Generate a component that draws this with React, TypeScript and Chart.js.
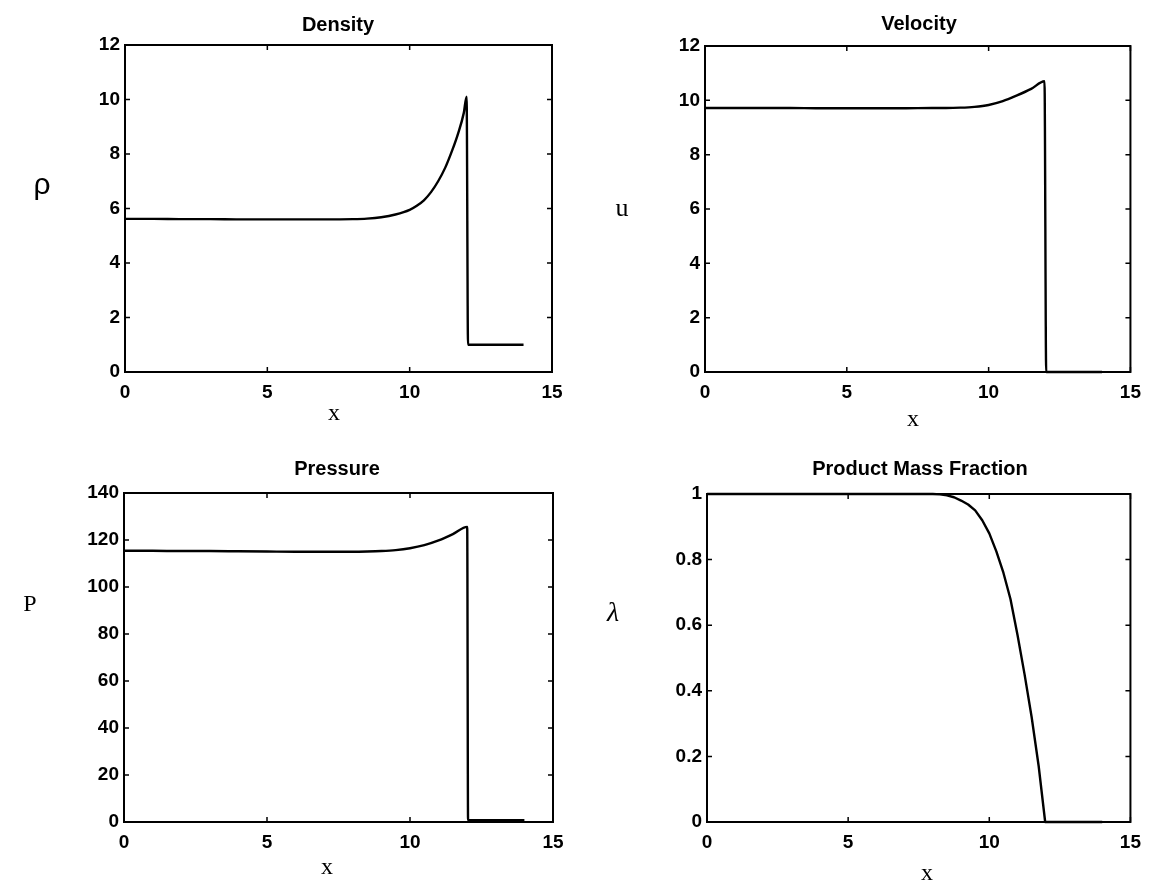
import React, { useEffect, useRef } from "react";
import { Chart, registerables } from "chart.js";

Chart.register(...registerables);

// ---------- data ----------
const densityX = [0, 1, 2, 3, 4, 5, 6, 7, 8, 8.5, 9, 9.5, 10, 10.25, 10.5, 10.75, 11, 11.25, 11.5, 11.7, 11.9, 12.0, 12.05, 13, 14];
const densityY = [5.62, 5.62, 5.61, 5.61, 5.6, 5.6, 5.6, 5.6, 5.61, 5.63, 5.68, 5.78, 5.95, 6.1, 6.3, 6.6, 7.0, 7.5, 8.15, 8.75, 9.5, 10.1, 1.0, 1.0, 1.0];

const velocityX = [0, 1, 2, 3, 4, 5, 6, 7, 8, 8.5, 9, 9.5, 10, 10.5, 11, 11.5, 11.97, 12.03, 13, 14];
const velocityY = [9.72, 9.72, 9.72, 9.72, 9.71, 9.71, 9.71, 9.71, 9.72, 9.72, 9.73, 9.76, 9.83, 9.97, 10.18, 10.42, 10.7, 0, 0, 0];

const pressureX = [0, 1, 2, 3, 4, 5, 6, 7, 8, 8.5, 9, 9.5, 10, 10.5, 11, 11.5, 12.0, 12.03, 13, 14];
const pressureY = [115.4, 115.4, 115.3, 115.3, 115.2, 115.1, 115.0, 115.0, 115.0, 115.1, 115.3, 115.7, 116.5, 117.8, 119.8, 122.5, 125.6, 0.8, 0.8, 0.8];

const lambdaX = [0, 2, 4, 6, 8, 8.25, 8.5, 8.75, 9, 9.25, 9.5, 9.75, 10, 10.25, 10.5, 10.75, 11, 11.25, 11.5, 11.75, 11.98, 13, 14];
const lambdaY = [1, 1, 1, 1, 1, 0.999, 0.996, 0.99, 0.98, 0.968, 0.95, 0.92, 0.88, 0.825, 0.76, 0.68, 0.57, 0.45, 0.32, 0.17, 0, 0, 0];

const xTickStep = 5;
const xMin = 0;
const xMax = 15;

const titles = ["Density", "Velocity", "Pressure", "Product Mass Fraction"];
const yLabels = ["ρ", "u", "P", "λ"];
const xLabel = "x";

// ---------- layout ----------
const W = 1150;
const H = 882;
const YW = 60;
const XH = 40;

type PanelSpec = {
  xs: number[];
  ys: number[];
  yMin: number;
  yMax: number;
  yStep: number;
  smooth: boolean;
  area: { l: number; r: number; t: number; b: number };
  title: string;
  titlePos: [number, number];
  yLabel: string;
  yLabelPos: [number, number];
  yLabelFont: string;
  xLabelPos: [number, number];
};

const panels: PanelSpec[] = [
  {
    xs: densityX, ys: densityY, yMin: 0, yMax: 12, yStep: 2, smooth: true,
    area: { l: 125, r: 552, t: 45, b: 372 },
    title: titles[0], titlePos: [338, 25],
    yLabel: yLabels[0], yLabelPos: [42, 194], yLabelFont: '30px "Liberation Sans"',
    xLabelPos: [334, 420],
  },
  {
    xs: velocityX, ys: velocityY, yMin: 0, yMax: 12, yStep: 2, smooth: true,
    area: { l: 705, r: 1132, t: 46, b: 372 },
    title: titles[1], titlePos: [919, 24],
    yLabel: yLabels[1], yLabelPos: [622, 216], yLabelFont: '26px "Liberation Serif"',
    xLabelPos: [913, 426],
  },
  {
    xs: pressureX, ys: pressureY, yMin: 0, yMax: 140, yStep: 20, smooth: true,
    area: { l: 124, r: 553, t: 493, b: 822 },
    title: titles[2], titlePos: [337, 469],
    yLabel: yLabels[2], yLabelPos: [30, 611], yLabelFont: '24px "Liberation Serif"',
    xLabelPos: [327, 874],
  },
  {
    xs: lambdaX, ys: lambdaY, yMin: 0, yMax: 1, yStep: 0.2, smooth: false,
    area: { l: 707, r: 1134, t: 494, b: 822 },
    title: titles[3], titlePos: [920, 469],
    yLabel: yLabels[3], yLabelPos: [613, 621], yLabelFont: 'italic 28px "Liberation Serif"',
    xLabelPos: [927, 880],
  },
];

const framePlugin = {
  id: "frame",
  afterDraw(chart: any, _args: any, opts: any) {
    const ctx = chart.ctx as CanvasRenderingContext2D;
    const { left, right, top, bottom } = chart.chartArea;
    ctx.save();
    ctx.strokeStyle = "#000";
    ctx.lineWidth = 2;
    ctx.strokeRect(left, top, right - left, bottom - top);
    ctx.lineWidth = 1.5;
    const tl = 5;
    const xs = chart.scales.x;
    xs.ticks.forEach((t: any) => {
      const p = xs.getPixelForValue(t.value);
      ctx.beginPath();
      ctx.moveTo(p, bottom);
      ctx.lineTo(p, bottom - tl);
      ctx.moveTo(p, top);
      ctx.lineTo(p, top + tl);
      ctx.stroke();
    });
    const ys = chart.scales.y;
    ys.ticks.forEach((t: any) => {
      const p = ys.getPixelForValue(t.value);
      ctx.beginPath();
      ctx.moveTo(left, p);
      ctx.lineTo(left + tl, p);
      ctx.moveTo(right, p);
      ctx.lineTo(right - tl, p);
      ctx.stroke();
    });
    ctx.fillStyle = "#000";
    ctx.textAlign = "center";
    ctx.textBaseline = "middle";
    ctx.font = 'bold 20px "Liberation Sans"';
    ctx.fillText(opts.title, opts.titlePos[0], opts.titlePos[1]);
    ctx.textBaseline = "alphabetic";
    ctx.font = opts.yLabelFont;
    ctx.fillText(opts.yLabel, opts.yLabelPos[0], opts.yLabelPos[1]);
    ctx.font = '24px "Liberation Serif"';
    ctx.fillText(opts.xLabel, opts.xLabelPos[0], opts.xLabelPos[1]);
    ctx.restore();
  },
};

const tickFont = { family: '"Liberation Sans", Arial, sans-serif', size: 19, weight: "bold" as const };

const fmt = (v: any) => String(Math.round(Number(v) * 100) / 100);

function PanelChart({ spec }: { spec: PanelSpec }) {
  const ref = useRef<HTMLCanvasElement | null>(null);
  useEffect(() => {
    if (!ref.current) return;
    const { l, r, t, b } = spec.area;
    const chart = new Chart(ref.current, {
      type: "line",
      data: {
        datasets: [
          {
            data: spec.xs.map((x, i) => ({ x, y: spec.ys[i] })),
            borderColor: "#000",
            borderWidth: 2.4,
            pointRadius: 0,
            fill: false,
            tension: 0,
            cubicInterpolationMode: spec.smooth ? "monotone" : "default",
            borderJoinStyle: "round",
            clip: 6,
          } as any,
        ],
      },
      options: {
        animation: false,
        responsive: false,
        events: [],
        layout: {
          padding: { left: l - YW, top: t, right: W - r, bottom: H - b - XH },
        },
        plugins: {
          legend: { display: false },
          tooltip: { enabled: false },
          frame: {
            title: spec.title,
            titlePos: spec.titlePos,
            yLabel: spec.yLabel,
            yLabelPos: spec.yLabelPos,
            yLabelFont: spec.yLabelFont,
            xLabel: xLabel,
            xLabelPos: spec.xLabelPos,
          },
        } as any,
        scales: {
          x: {
            type: "linear",
            min: xMin,
            max: xMax,
            ticks: { stepSize: xTickStep, color: "#000", font: tickFont, padding: 9, maxRotation: 0, callback: fmt },
            grid: { display: false, drawTicks: false },
            border: { display: false },
            afterFit: (s: any) => {
              s.height = XH;
            },
          },
          y: {
            type: "linear",
            min: spec.yMin,
            max: spec.yMax,
            ticks: { stepSize: spec.yStep, color: "#000", font: tickFont, padding: 5, callback: fmt },
            grid: { display: false, drawTicks: false },
            border: { display: false },
            afterFit: (s: any) => {
              s.width = YW;
            },
          },
        },
      },
      plugins: [framePlugin],
    });
    return () => chart.destroy();
  }, [spec]);
  return (
    <canvas
      ref={ref}
      width={W}
      height={H}
      style={{ position: "absolute", left: 0, top: 0, width: W, height: H }}
    />
  );
}

export default function App() {
  return (
    <div style={{ position: "absolute", left: 0, top: 0, width: W, height: H, background: "#fff" }}>
      {panels.map((p, i) => (
        <PanelChart key={i} spec={p} />
      ))}
    </div>
  );
}
